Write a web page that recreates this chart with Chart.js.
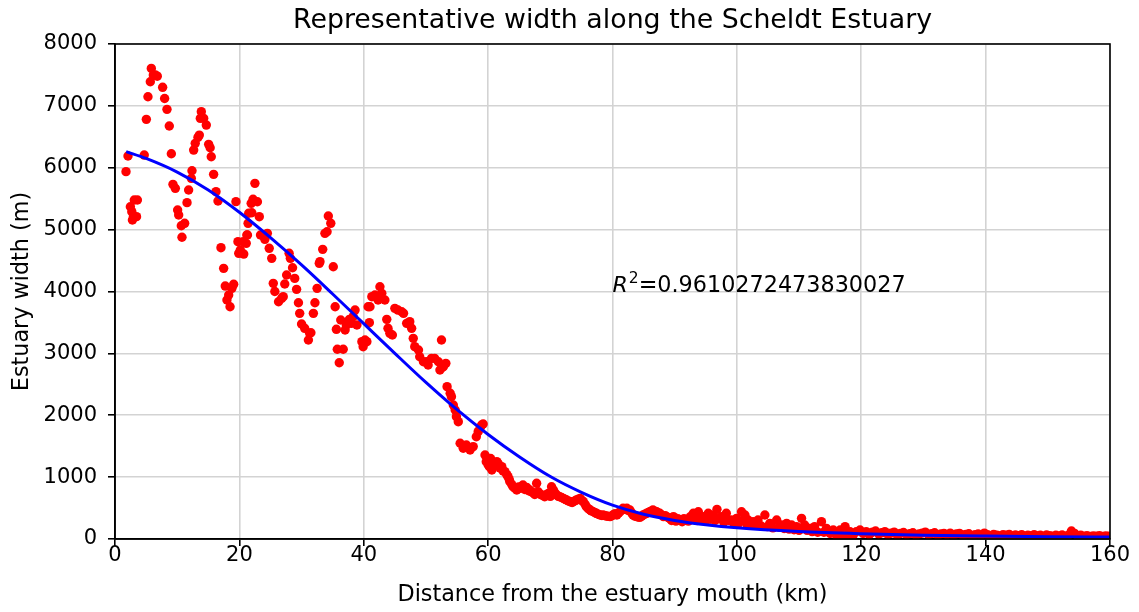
<!DOCTYPE html>
<html>
<head>
<meta charset="utf-8">
<script src="https://cdn.jsdelivr.net/npm/chart.js@4/dist/chart.umd.min.js"></script>
<style>
  html, body { margin: 0; padding: 0; background: #ffffff; }
  canvas { display: block; }
</style>
</head>
<body>
<canvas id="chart" width="1139" height="612"></canvas>
<script>
// Measured channel widths along the estuary (distance in km, width in m)
const distanceKm = [
  1.77, 2.09, 2.47, 2.7, 2.8, 2.96, 3.1, 3.46, 3.6, 4.7, 5.04, 5.3, 5.68, 5.84, 6.16, 6.5, 6.8,
  7.66, 7.98, 8.36, 8.73, 9.06, 9.32, 9.7, 10.07, 10.24, 10.66, 10.77, 11.2, 11.58, 11.84, 12.27,
  12.38, 12.65, 12.9, 13.34, 13.56, 13.72, 13.88, 14.26, 14.68, 15.06, 15.3, 15.48, 15.86, 16.24,
  16.56, 17.04, 17.47, 17.73, 18.0, 18.28, 18.5, 18.8, 19.08, 19.45, 19.77, 19.9, 20.15, 20.6,
  20.7, 21.1, 21.2, 21.3, 21.4, 21.5, 21.9, 22.0, 22.2, 22.5, 22.9, 23.2, 23.4, 24.1, 24.5, 24.8,
  25.2, 25.45, 25.7, 26.3, 26.8, 27.05, 27.3, 27.6, 28.0, 28.2, 28.55, 28.9, 29.2, 29.5, 29.7,
  30.0, 30.5, 31.1, 31.3, 31.5, 31.9, 32.15, 32.5, 32.85, 32.96, 33.4, 33.76, 34.1, 34.3, 34.7,
  35.1, 35.4, 35.6, 35.75, 36.06, 36.3, 36.7, 37.0, 37.2, 37.7, 38.0, 38.3, 38.6, 38.9, 39.7,
  39.9, 40.2, 40.5, 40.7, 40.9, 41.0, 41.3, 41.8, 42.3, 42.6, 42.9, 43.4, 43.7, 43.9, 44.2, 44.6,
  45.0, 45.5, 46.1, 46.4, 46.9, 47.4, 47.7, 47.96, 48.2, 48.8, 49.0, 49.6, 50.1, 50.35, 50.9,
  51.4, 52.0, 52.25, 52.5, 52.6, 52.8, 53.2, 53.4, 53.9, 54.1, 54.4, 54.7, 54.9, 55.2, 55.5, 56.0,
  56.5, 57.1, 57.6, 58.1, 58.4, 58.7, 58.95, 59.2,
  59.5, 59.7, 60.0, 60.2, 60.4, 60.6, 60.9, 61.1, 61.4, 61.6, 61.9, 62.2, 62.4, 62.7, 63.0, 63.2,
  63.4, 63.5, 63.8, 64.0, 64.3, 64.6, 64.9, 65.1, 65.4, 65.6, 65.9, 66.2, 66.5, 66.7, 67.0, 67.25,
  67.5, 67.8, 68.05, 68.3, 68.6, 68.9, 69.1, 69.4, 69.7, 70.0, 70.2, 70.5, 70.8, 71.0, 71.3, 71.5,
  71.8, 72.1, 72.4, 72.6, 72.9, 73.2, 73.5, 73.7, 74.0, 74.2, 74.5, 74.8, 75.1, 75.3, 75.6, 75.8,
  76.1, 76.4, 76.6, 76.9, 77.2, 77.4, 77.7, 78.0, 78.3, 78.5, 78.8, 79.05, 79.3, 79.6, 79.9, 80.1,
  80.4, 80.7, 81.0, 81.2, 81.5, 81.7, 82.0, 82.3, 82.5, 82.8, 83.1, 83.3, 83.6, 83.9, 84.1, 84.4,
  84.7, 84.9, 85.2, 85.5, 85.8, 86.0, 86.3, 86.5, 86.8, 87.1, 87.3, 87.6, 87.9, 88.2, 88.5, 88.7,
  89.0, 89.2,
  89.5, 89.8, 90.2, 90.5, 90.8, 91.2, 91.5, 91.9, 92.2, 92.5, 93.0, 93.3, 93.6, 93.8, 94.2, 94.6,
  95.0, 95.4, 95.8, 96.2, 96.5, 96.8, 97.1, 97.5, 97.9, 98.3, 98.7, 99.1, 99.5, 99.95, 100.3,
  100.75, 101.0, 101.3, 101.6, 101.8, 102.2, 102.6, 103.0, 103.4, 103.9, 104.5, 104.9, 105.3,
  105.8, 106.4, 106.8, 107.2, 107.6, 108.0, 108.4, 108.8, 109.2, 109.6, 110.0, 110.4, 110.9,
  111.3, 111.7, 112.1, 112.5, 113.0, 113.6, 114.0, 114.4, 115.0, 115.5, 116.0, 116.6, 117.0,
  117.4, 117.8, 118.2, 118.7, 119.2, 119.8,
  120.3, 120.8, 121.3, 121.8, 122.3, 122.8, 123.3, 123.8, 124.3, 124.8, 125.3, 125.8, 126.3,
  126.8, 127.3, 127.8, 128.3, 128.8, 129.3, 129.8, 130.3, 130.8, 131.3, 131.8, 132.3, 132.8,
  133.3, 133.8, 134.3, 134.8, 135.3, 135.8, 136.3, 136.8, 137.3, 137.8, 138.3, 138.8, 139.3,
  139.8, 140.3, 140.8, 141.3, 141.8, 142.3, 142.8, 143.3, 143.8, 144.3, 144.8, 145.3, 145.8,
  146.3, 146.8, 147.3, 147.8, 148.3, 148.8, 149.3, 149.8, 150.3, 150.8, 151.3, 151.8, 152.3,
  152.8, 153.3, 153.8, 154.3, 154.8, 155.3, 155.8, 156.3, 156.8, 157.3, 157.8, 158.3, 158.8,
  159.3, 159.8
];
const widthM = [
  5937, 6190, 5370, 5290, 5155, 5210, 5478, 5210, 5478, 6205, 6782, 7148, 7390, 7606, 7498, 7498, 7480,
  7300, 7120, 6944, 6674, 6227, 5732, 5667, 5317, 5236, 5063, 4876, 5102, 5436, 5640, 5829,
  5952, 6286, 6394, 6491, 6528, 6798, 6906, 6798, 6690, 6378, 6324, 6178, 5893, 5613,
  5462, 4708, 4374, 4088, 3862, 3943, 3754, 4051, 4116, 5452, 4805, 4617, 4670, 4805,
  4605, 4778, 4913, 4913, 5102, 5264, 5425, 5273, 5490, 5748, 5450, 5209, 4913, 4843, 4940, 4698,
  4536, 4132, 4000, 3835, 3890, 3916, 4121, 4266, 4617, 4536, 4384, 4212, 4035, 3819, 3647,
  3474, 3405, 3216, 3324, 3334, 3647, 3819, 4051, 4455, 4482, 4681, 4940, 4966, 5220, 5102,
  4400, 3754, 3389, 3066, 2849, 3539, 3066, 3377, 3458, 3550, 3485, 3593, 3700, 3458, 3189,
  3108, 3216, 3189, 3754, 3496, 3754, 3916, 3943, 3862, 4077, 3970, 3862, 3550, 3405, 3324, 3297,
  3728, 3700, 3673, 3647, 3485, 3512, 3405, 3243, 3108, 3054, 2946, 2865, 2865, 2812, 2920,
  2920, 2865, 2731, 3216, 2774, 2785, 2839, 2462, 2355, 2300, 2166, 2085, 1977, 1896, 1547, 1466,
  1519, 1438, 1493, 1653, 1735, 1789, 1842, 1858,
  1357, 1250, 1200, 1169, 1300, 1115, 1180, 1196, 1250, 1223, 1150, 1169, 1100, 1088, 1040, 1007,
  960, 926, 880, 845, 820, 792, 840, 819, 850, 873, 800, 835, 780, 792, 760, 748,
  720, 900, 764, 730, 711, 700, 684, 720, 738, 690, 845, 792, 740, 711, 690, 684,
  670, 657, 640, 630, 615, 603, 590, 603, 620, 630, 645, 657, 620, 603, 560, 522,
  490, 469, 455, 441, 425, 415, 400, 388, 380, 388, 375, 372, 365, 361, 375, 388,
  410, 388, 420, 441, 470, 496, 480, 496, 460, 469, 420, 388, 370, 361, 355, 350,
  370, 388, 400, 415, 430, 441, 455, 469, 450, 441, 425, 415, 390, 361, 375, 361,
  345, 334,
  300, 361, 290, 330, 307, 280, 330, 307, 290, 360, 415, 350, 300, 441, 330, 361,
  290, 415, 320, 388, 300, 479, 330, 361, 270, 415, 300, 307, 250, 334, 260,
  441, 300, 388, 240, 307, 230, 280, 220, 307, 210, 388, 200, 253,
  180, 307, 190, 226, 170, 253, 160, 226, 150, 199, 140, 334, 226,
  140, 172, 120, 199, 110, 280, 110, 172, 90, 145, 60, 145, 50,
  199, 70, 118, 60, 118, 145,
  90, 120, 70, 110, 130, 80, 100, 120, 70, 95, 110, 60, 90,
  105, 70, 85, 100, 60, 80, 95, 110, 70, 85, 100, 60, 80,
  90, 70, 95, 60, 80, 90, 60, 75, 85, 55, 70, 80, 60,
  95, 70, 55, 75, 60, 50, 70, 60, 75, 50, 65, 55, 70,
  45, 60, 55, 70, 50, 60, 45, 65, 55, 45, 60, 50, 65,
  45, 60, 130, 90, 50, 60, 45, 55, 40, 50, 45, 55, 40,
  50, 45
];

// Fitted width profile along the same axis
const fitKm =     [1.8, 5, 10, 15, 20, 25, 30, 35, 40, 45, 50, 55, 60, 65, 70, 75, 80, 85, 90, 95, 100, 110, 120, 130, 140, 150, 160];
const fitWidthM = [6260, 6150, 5930, 5640, 5280, 4870, 4430, 3960, 3480, 3000, 2530, 2090, 1690, 1330, 1010, 755, 548, 400, 300, 230, 180, 120, 85, 62, 48, 38, 32];

const xTicks = [0, 20, 40, 60, 80, 100, 120, 140, 160];
const yTicks = [0, 1000, 2000, 3000, 4000, 5000, 6000, 7000, 8000];

const titleText = 'Representative width along the Scheldt Estuary';
const xLabel = 'Distance from the estuary mouth (km)';
const yLabel = 'Estuary width (m)';
const rSquaredValue = '0.9610272473830027';
const rSquaredAnchor = [80, 4000];

const FONT = "'DejaVu Sans', 'Liberation Sans', sans-serif";

const scatterPoints = distanceKm.map((x, i) => ({ x, y: widthM[i] }));
const fitPoints = fitKm.map((x, i) => ({ x, y: fitWidthM[i] }));

// Title, closed axes frame and the R² annotation
const decorations = {
  id: 'decorations',
  afterDraw(chart) {
    const { ctx, chartArea: a, scales } = chart;
    ctx.save();
    ctx.strokeStyle = '#000000';
    ctx.lineWidth = 1.6;
    ctx.strokeRect(a.left, a.top, a.right - a.left, a.bottom - a.top);

    ctx.fillStyle = '#000000';
    ctx.textAlign = 'center';
    ctx.textBaseline = 'middle';
    ctx.font = `26.8px ${FONT}`;
    ctx.fillText(titleText, (a.left + a.right) / 2, 21);

    const px = scales.x.getPixelForValue(rSquaredAnchor[0]);
    const py = scales.y.getPixelForValue(rSquaredAnchor[1]);
    ctx.textAlign = 'left';
    ctx.textBaseline = 'alphabetic';
    let cx = px;
    ctx.font = `italic 22px ${FONT}`;
    ctx.fillText('R', cx, py);
    cx += ctx.measureText('R').width + 1;
    ctx.font = `15.5px ${FONT}`;
    ctx.fillText('2', cx, py - 9);
    cx += ctx.measureText('2').width;
    ctx.font = `22.3px ${FONT}`;
    ctx.fillText('=' + rSquaredValue, cx, py);
    ctx.restore();
  }
};

const axisCommon = {
  type: 'linear',
  grid: {
    color: '#d3d3d3',
    lineWidth: 1.6,
    tickColor: '#000000',
    tickLength: 7,
    tickWidth: 1.6,
    drawTicks: true
  },
  border: { display: true, color: '#000000', width: 1.6 },
  title: {
    display: true,
    color: '#000000',
    font: { family: FONT, size: 22.3 }
  }
};

const tickFont = { family: FONT, size: 21 };

new Chart(document.getElementById('chart'), {
  data: {
    datasets: [
      {
        type: 'line',
        label: 'fit',
        data: fitPoints,
        borderColor: '#0000ff',
        borderWidth: 3,
        pointRadius: 0,
        fill: false,
        cubicInterpolationMode: 'monotone',
        order: 0
      },
      {
        type: 'scatter',
        label: 'width',
        data: scatterPoints,
        backgroundColor: '#ff0000',
        borderWidth: 0,
        pointRadius: 4.7,
        order: 1
      }
    ]
  },
  options: {
    responsive: false,
    animation: false,
    devicePixelRatio: 1,
    layout: { padding: { top: 44, right: 29, left: 0, bottom: 0 } },
    plugins: {
      legend: { display: false },
      tooltip: { enabled: false },
      title: { display: false }
    },
    scales: {
      x: {
        ...axisCommon,
        min: 0, max: 160,
        ticks: { color: '#000000', font: tickFont, padding: -3, maxRotation: 0, callback: (v) => String(v) },
        afterBuildTicks: (s) => { s.ticks = xTicks.map(v => ({ value: v })); },
        afterFit: (s) => { s.height = 73; },
        title: { ...axisCommon.title, text: xLabel, padding: { top: 0, bottom: 3 } }
      },
      y: {
        ...axisCommon,
        min: 0, max: 8000,
        ticks: { color: '#000000', font: tickFont, padding: 11, callback: (v) => String(v) },
        afterBuildTicks: (s) => { s.ticks = yTicks.map(v => ({ value: v })); },
        afterFit: (s) => { s.width = 115; },
        title: { ...axisCommon.title, text: yLabel, padding: { top: 9, bottom: 0 } }
      }
    }
  },
  plugins: [decorations]
});
</script>
</body>
</html>
